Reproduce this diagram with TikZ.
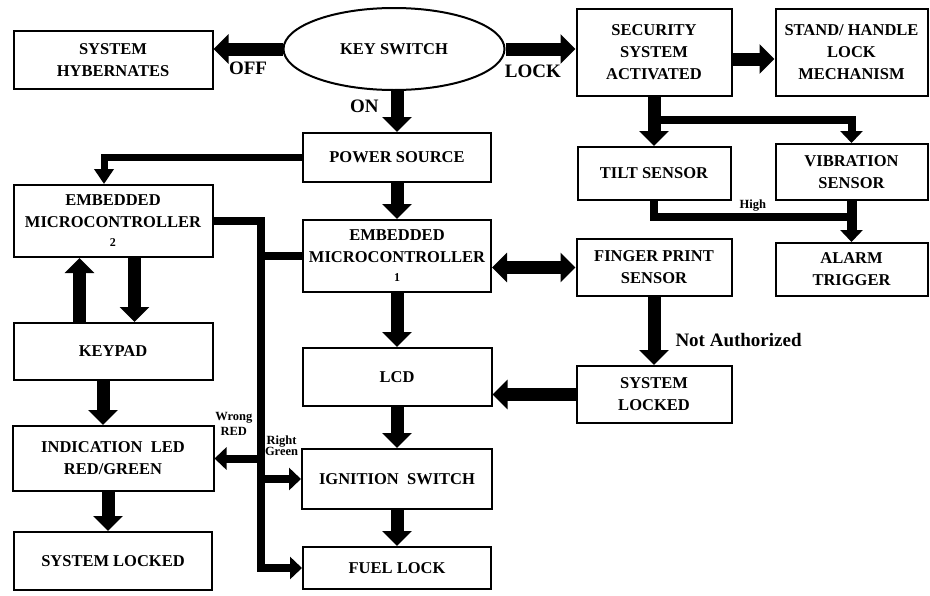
\documentclass[tikz,border=0pt]{standalone}
\usepackage{fontspec}
\setmainfont{Liberation Serif}
\usetikzlibrary{positioning, shapes.geometric, arrows.meta}

\begin{document}
\begin{tikzpicture}[x=1pt, y=1pt, node distance=1em,
    box/.style={draw, rectangle, line width=2pt, align=center, inner sep=0pt, font=\fontsize{16.5}{22}\selectfont\bfseries},
    oval/.style={draw, ellipse, line width=2pt, inner sep=0pt, minimum width=221pt, minimum height=82pt, font=\fontsize{16.5}{22}\selectfont\bfseries},
    arrow/.style={line width=13pt, -{Triangle[width=29pt,length=15pt]}},
    smallarrow/.style={line width=8pt, -{Triangle[width=22pt,length=12pt]}},
    line/.style={draw, line width=8pt},
    tag/.style={inner sep=1pt, font=\fontsize{19}{22}\selectfont\bfseries},
    smalltag/.style={inner sep=0pt, align=center, font=\fontsize{12.5}{15}\selectfont\bfseries}]

    \useasboundingbox (0,0) rectangle (930,-595);

    \node [oval] (keysw) at (394,-49) {KEY SWITCH};
    \node [box, minimum width=199pt, minimum height=58pt, left=69pt of keysw, yshift=-11pt] (hyber) {SYSTEM\\HYBERNATES};
    \node [box, minimum width=155pt, minimum height=87pt, right=70pt of keysw, yshift=-3.5pt] (secur) {SECURITY\\SYSTEM\\ACTIVATED};
    \node [box, minimum width=152pt, minimum height=87pt, right=42pt of secur] (stand) {STAND/ HANDLE\\LOCK\\MECHANISM};

    \node [box, minimum width=188pt, minimum height=49pt, below=41pt of keysw, xshift=3pt] (power) {POWER SOURCE};
    \node [box, minimum width=188pt, minimum height=72pt, below=36pt of power] (mcu1) {EMBEDDED\\MICROCONTROLLER\\[-3pt]{\fontsize{12}{14}\selectfont 1}};
    \node [box, minimum width=189pt, minimum height=58pt, below=54pt of mcu1] (lcd) {LCD};
    \node [box, minimum width=190pt, minimum height=60pt, below=41pt of lcd] (ignit) {IGNITION~ SWITCH};
    \node [box, minimum width=188pt, minimum height=42pt, below=36pt of ignit] (fuel) {FUEL LOCK};

    \node [box, minimum width=153pt, minimum height=53pt, below=49pt of secur] (tilt) {TILT SENSOR};
    \node [box, minimum width=155pt, minimum height=57pt, below=37pt of tilt] (finger) {FINGER PRINT\\SENSOR};
    \node [box, minimum width=155pt, minimum height=57pt, below=68pt of finger] (syslock) {SYSTEM\\LOCKED};
    \node [box, minimum width=152pt, minimum height=56pt, below=46pt of stand] (vibr) {VIBRATION\\SENSOR};
    \node [box, minimum width=152pt, minimum height=53pt, below=41pt of vibr] (alarm) {ALARM\\TRIGGER};

    \node [box, minimum width=199pt, minimum height=72pt, below=94pt of hyber] (mcu2) {EMBEDDED\\MICROCONTROLLER\\[-3pt]{\fontsize{12}{14}\selectfont 2}};
    \node [box, minimum width=199pt, minimum height=57pt, below=64pt of mcu2] (keypad) {KEYPAD};
    \node [box, minimum width=201pt, minimum height=65pt, below=44pt of keypad] (led) {INDICATION~ LED\\RED/GREEN};
    \node [box, minimum width=198pt, minimum height=58pt, below=39pt of led] (lockd) {SYSTEM LOCKED};

    \coordinate [right=47pt of mcu2.east] (bus);

    % key switch
    \draw [arrow] (keysw.west) -- node [tag, below=5pt] {OFF} (keysw.west -| hyber.east);
    \draw [arrow] (keysw.east) -- node [tag, below=8pt, pos=0.39] {LOCK} (keysw.east -| secur.west);
    \draw [arrow] (keysw.south -| power.north) -- node [tag, left=11pt, pos=0.38] {ON} (power.north);

    % security side
    \draw [arrow] ([yshift=-6.5pt]secur.east) -- ([yshift=-6.5pt]secur.east -| stand.west);
    \draw [arrow] (secur) -- (tilt);
    \draw [smallarrow] ([yshift=-23pt]secur.south) -| (vibr.north);
    \draw [line] (tilt.south) |- node [smalltag, above=2pt, pos=0.75] {High} ([yshift=-16pt]vibr.south);
    \draw [smallarrow, line width=10pt] (vibr) -- (alarm);

    % power and controllers
    \draw [smallarrow, line width=7pt, -{Triangle[width=19pt,length=15pt]}] (power.west) -| ([xshift=-9pt]mcu2.north);
    \draw [arrow] (power) -- (mcu1);
    \draw [arrow, {Triangle[width=29pt,length=15pt]}-{Triangle[width=29pt,length=15pt]}] (finger.west -| mcu1.east) -- (finger.west);
    \draw [arrow] (mcu1) -- (lcd);
    \draw [arrow] (finger) -- node [tag, right=14pt, pos=0.63] {Not Authorized} (syslock);
    \draw [arrow] (syslock.west) -- (syslock.west -| lcd.east);
    \draw [arrow] (lcd) -- (ignit);
    \draw [arrow] (ignit) -- (fuel);

    % keypad side
    \draw [arrow] ([xshift=-33.5pt]keypad.north) -- ([xshift=-33.5pt]keypad.north |- mcu2.south);
    \draw [arrow] ([xshift=21.5pt]keypad.north |- mcu2.south) -- ([xshift=21.5pt]keypad.north);
    \draw [arrow] ([xshift=-10pt]keypad.south) -- ([xshift=-10pt]keypad.south |- led.north);
    \draw [arrow] ([xshift=-5pt]led.south) -- ([xshift=-5pt]led.south |- lockd.north);

    % bus from controller 2
    \draw [line, -{Triangle[width=22pt,length=12pt]}] (mcu2.east) -- (bus) |- (fuel.west);
    \draw [line] (bus |- mcu1.west) -- (mcu1.west);
    \draw [smallarrow] (bus |- led.east) -- node [smalltag, above=19pt, pos=0.58] {Wrong\\RED} (led.east);
    \draw [smallarrow] (bus |- ignit.west) -- node [smalltag, above=19pt, pos=0.52] {Right\\[-4pt]Green} (ignit.west);

\end{tikzpicture}
\end{document}
